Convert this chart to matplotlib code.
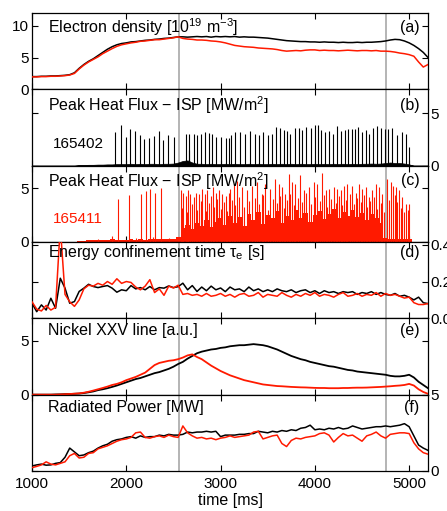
import numpy as np
import matplotlib
matplotlib.use('Agg')
import matplotlib.pyplot as plt

plt.rcParams['font.family'] = ['Liberation Sans', 'DejaVu Sans']
plt.rcParams['mathtext.fontset'] = 'custom'
plt.rcParams['mathtext.rm'] = 'Liberation Sans'
plt.rcParams['mathtext.it'] = 'Liberation Sans:italic'
plt.rcParams['mathtext.default'] = 'regular'

RED = '#ff1a00'
GREY = '#a8a8a8'

# sample grid of the slow signals, 50 ms
time_ms = list(range(1000, 5201, 50))

# vertical markers
t_marks = [2560, 4752]

# (a) electron density [1e19 m^-3]
ne_402 = [2.0, 2.0, 2.05, 2.05, 2.1, 2.1, 2.15, 2.2, 2.3, 2.6,
          3.3, 3.9, 4.4, 4.8, 5.3, 5.8, 6.3, 6.7, 7.0, 7.2,
          7.3, 7.45, 7.5, 7.6, 7.7, 7.75, 7.85, 7.9, 8.0, 8.05,
          8.15, 8.25, 8.25, 8.2, 8.25, 8.3, 8.25, 8.3, 8.2, 8.3,
          8.25, 8.3, 8.25, 8.3, 8.2, 8.25, 8.2, 8.2, 8.15, 8.1,
          8.05, 7.95, 7.85, 7.75, 7.65, 7.6, 7.55, 7.5, 7.5, 7.45,
          7.45, 7.4, 7.45, 7.4, 7.4, 7.35, 7.4, 7.35, 7.35, 7.4,
          7.35, 7.4, 7.4, 7.45, 7.5, 7.6, 7.75, 7.85, 7.8, 7.6,
          7.3, 6.9, 6.4, 5.8, 5.0]
ne_411 = [1.95, 1.95, 2.0, 2.0, 2.05, 2.05, 2.1, 2.15, 2.25, 2.5,
          3.2, 3.8, 4.3, 4.7, 5.1, 5.6, 6.0, 6.4, 6.75, 7.0,
          7.15, 7.3, 7.4, 7.55, 7.6, 7.7, 7.8, 7.8, 7.9, 8.0,
          8.1, 8.25, 8.0, 7.9, 7.85, 7.75, 7.75, 7.7, 7.6, 7.55,
          7.45, 7.3, 7.1, 6.9, 6.8, 6.7, 6.65, 6.6, 6.5, 6.45,
          6.4, 6.35, 6.25, 6.1, 6.0, 6.05, 6.1, 6.05, 6.15, 6.2,
          6.2, 6.1, 6.15, 6.1, 6.1, 6.05, 6.1, 6.15, 6.1, 6.05,
          6.1, 6.1, 6.05, 6.1, 6.0, 6.0, 5.95, 5.85, 5.7, 5.6,
          5.45, 5.2, 4.3, 3.5, 3.9]

# (b) peak heat flux, shot 165402: ELM times [ms] and peaks [MW/m2]
elm_t_402 = [1883, 1943, 2000, 2043, 2096, 2142, 2191, 2238, 2291, 2344,
             2390, 2440, 2511, 2635, 2670, 2716, 2752, 2794, 2830, 2876,
             2911, 2954, 3000, 3053, 3089, 3113, 3156, 3209, 3262, 3308,
             3362, 3404, 3447, 3500, 3546, 3592, 3628, 3670, 3706, 3741,
             3787, 3830, 3865, 3901, 3954, 4000, 4028, 4064, 4103, 4149,
             4195, 4237, 4273, 4316, 4351, 4390, 4425, 4461, 4496, 4539,
             4574, 4617, 4663, 4699, 4745, 4780, 4823, 4876, 4929, 4965,
             5000, 2660]
elm_q_402 = [3.2, 3.85, 2.75, 3.45, 3.3, 2.9, 2.5, 2.6, 2.8, 3.3,
             2.4, 2.9, 2.7, 3.0, 3.0, 3.0, 2.9, 3.05, 3.2, 3.15,
             3.0, 2.75, 2.75, 2.65, 2.6, 2.9, 3.2, 3.2, 3.05, 3.3,
             3.05, 2.95, 3.2, 2.9, 3.05, 3.7, 3.55, 3.4, 3.3, 3.05,
             3.55, 3.6, 3.4, 3.7, 3.55, 3.9, 3.85, 3.4, 3.2, 3.3,
             3.05, 3.8, 3.3, 3.4, 3.45, 3.5, 3.45, 3.7, 3.2, 3.4,
             3.05, 3.6, 3.8, 3.55, 3.5, 3.5, 3.55, 2.95, 3.2, 3.05,
             1.8, 1.5]
floor_402 = [0, 0, 0, 0, 0, 0, 0, 0, 0, 0,
             0.06, 0.06, 0.08, 0.08, 0.1, 0.1, 0.12, 0.12, 0.15, 0.15,
             0.15, 0.18, 0.15, 0.18, 0.15, 0.18, 0.18, 0.15, 0.18, 0.18,
             0.2, 0.3, 0.45, 0.5, 0.3, 0.18, 0.18, 0.15, 0.18, 0.15,
             0.15, 0.18, 0.15, 0.18, 0.15, 0.15, 0.18, 0.15, 0.18, 0.15,
             0.15, 0.18, 0.15, 0.18, 0.15, 0.18, 0.15, 0.18, 0.15, 0.15,
             0.18, 0.15, 0.18, 0.15, 0.18, 0.15, 0.18, 0.15, 0.18, 0.15,
             0.18, 0.18, 0.2, 0.18, 0.2, 0.25, 0.3, 0.25, 0.25, 0.2,
             0.12, 0, 0, 0, 0]

# (c) peak heat flux, shot 165411
elm_t_411 = [1910, 2030, 2160, 2210, 2250, 2300, 2365,
             2575, 2603, 2628, 2653, 2681, 2717, 2741, 2770, 2805, 2830,
             2858, 2894, 2922, 2947, 2983, 3018, 3053, 3089,
             3103, 3138, 3174, 3227, 3280, 3333, 3386, 3440, 3475, 3528,
             3581, 3617, 3652, 3688, 3723, 3759, 3794, 3847, 3883, 3936,
             3989, 4025, 4078, 4113, 4149, 4202, 4237, 4273, 4308, 4344,
             4397, 4432, 4468, 4503, 4539, 4574, 4610, 4645, 4681, 4716,
             4769, 4805, 4830, 4858, 4893, 4929, 4964, 5000]
elm_q_411 = [4.0, 4.4, 4.5, 4.7, 4.9, 4.6, 5.0,
             4.8, 4.6, 4.3, 4.8, 4.5, 4.2, 4.6, 4.5, 4.9, 4.5,
             4.8, 4.3, 5.1, 4.6, 4.8, 4.5, 4.3, 4.6,
             4.9, 5.4, 5.7, 5.1, 4.8, 5.2, 5.6, 4.5, 5.4, 4.9,
             5.9, 5.4, 5.1, 4.5, 6.3, 5.6, 5.4, 6.2, 4.8, 5.1,
             5.6, 5.4, 6.4, 4.8, 4.9, 5.1, 4.9, 4.8, 5.2, 5.4,
             5.2, 4.6, 5.4, 4.9, 5.1, 4.2, 4.8, 5.4, 5.1, 4.5,
             5.9, 5.6, 5.2, 5.1, 4.8, 4.2, 3.5, 3.5]
mid_t_411 = [1700, 1850, 2100, 2280, 2450,
             2590, 2640, 2695, 2755, 2790, 2845, 2875, 2935, 2965, 3000,
             3035, 3070, 3120, 3155, 3200, 3250, 3305, 3360, 3410, 3455,
             3500, 3555, 3600, 3635, 3670, 3705, 3740, 3775, 3820, 3865,
             3910, 3960, 4005, 4050, 4095, 4130, 4175, 4220, 4255, 4290,
             4325, 4370, 4415, 4450, 4485, 4520, 4555, 4590, 4625, 4660,
             4700, 4735, 4785, 4845, 4875, 4910, 4945, 4985]
mid_q_411 = [0.3, 0.6, 0.4, 0.5, 0.4,
             3.2, 2.8, 3.5, 3.0, 3.8, 2.9, 3.6, 3.3, 4.0, 3.1,
             3.7, 2.9, 3.9, 3.4, 4.2, 3.3, 3.8, 4.1, 3.5, 4.4,
             3.0, 4.0, 3.6, 4.3, 3.2, 3.9, 4.5, 3.4, 4.1, 3.7,
             4.6, 3.5, 4.2, 3.8, 4.4, 3.3, 4.0, 3.6, 4.3, 3.4,
             3.9, 4.5, 3.5, 4.1, 3.7, 4.4, 3.3, 3.8, 4.2, 3.1,
             3.6, 2.8, 3.9, 4.4, 3.7, 3.2, 2.8, 3.0]
floor_411 = [0, 0, 0, 0, 0, 0, 0, 0, 0, 0,
             0.1, 0.12, 0.15, 0.15, 0.2, 0.2, 0.2, 0.25, 0.2, 0.2,
             0.2, 0.25, 0.2, 0.25, 0.2, 0.25, 0.25, 0.3, 0.25, 0.3,
             0.3, 0.5, 1.3, 1.6, 1.2, 1.8, 1.5, 2.0, 1.4, 1.9,
             2.2, 1.6, 2.4, 1.8, 2.3, 1.5, 2.6, 2.0, 2.8, 1.7,
             2.5, 2.2, 2.9, 1.8, 2.4, 2.0, 3.0, 2.2, 2.7, 1.9,
             2.5, 2.9, 2.1, 2.6, 3.1, 2.2, 2.8, 2.4, 3.0, 2.3,
             2.7, 2.0, 2.6, 2.2, 1.8, 0.4, 0.3, 0.3, 0.3, 0.3,
             0.3, 0, 0, 0, 0]

# (d) energy confinement time [s]
tau_402 = [0.082, 0.036, 0.073, 0.045, 0.109, 0.055, 0.218, 0.164, 0.082, 0.091,
           0.146, 0.164, 0.185, 0.173, 0.167, 0.173, 0.178, 0.164, 0.142, 0.155,
           0.15, 0.178, 0.16, 0.167, 0.155, 0.173, 0.155, 0.167, 0.164, 0.176,
           0.167, 0.172, 0.191, 0.155, 0.178, 0.146, 0.17, 0.15, 0.175, 0.155,
           0.165, 0.145, 0.17, 0.155, 0.16, 0.145, 0.17, 0.15, 0.16, 0.145,
           0.155, 0.145, 0.16, 0.15, 0.145, 0.155, 0.14, 0.15, 0.155, 0.14,
           0.15, 0.135, 0.15, 0.14, 0.145, 0.135, 0.145, 0.14, 0.145, 0.13,
           0.14, 0.135, 0.145, 0.13, 0.14, 0.13, 0.125, 0.135, 0.12, 0.125,
           0.115, 0.1, 0.115, 0.085, 0.08]
tau_411 = [0.09, 0.05, 0.04, 0.07, 0.045, 0.06, 0.5, 0.13, 0.09, 0.065,
           0.1, 0.16, 0.18, 0.175, 0.19, 0.18, 0.2, 0.185, 0.215, 0.19,
           0.2, 0.195, 0.17, 0.155, 0.175, 0.21, 0.14, 0.16, 0.125, 0.175,
           0.165, 0.18, 0.13, 0.135, 0.125, 0.13, 0.12, 0.135, 0.12, 0.125,
           0.135, 0.12, 0.13, 0.115, 0.13, 0.135, 0.12, 0.125, 0.14, 0.115,
           0.13, 0.125, 0.12, 0.14, 0.125, 0.115, 0.13, 0.12, 0.135, 0.125,
           0.14, 0.12, 0.13, 0.125, 0.115, 0.13, 0.14, 0.12, 0.125, 0.135,
           0.12, 0.13, 0.125, 0.14, 0.12, 0.135, 0.125, 0.13, 0.12, 0.11,
           0.115, 0.085, 0.075, 0.075, 0.08]

# (e) nickel XXV line [a.u.]
ni_402 = [0, 0, 0, 0, 0, 0.02, 0.03, 0.05, 0.06, 0.08,
          0.1, 0.15, 0.22, 0.3, 0.42, 0.5, 0.6, 0.72, 0.85, 1.0,
          1.15, 1.3, 1.45, 1.55, 1.7, 1.85, 2.0, 2.1, 2.25, 2.4,
          2.6, 2.85, 3.05, 3.35, 3.6, 3.85, 4.0, 4.1, 4.2, 4.25,
          4.35, 4.4, 4.5, 4.55, 4.6, 4.6, 4.65, 4.7, 4.65, 4.6,
          4.5, 4.35, 4.2, 4.0, 3.8, 3.6, 3.45, 3.3, 3.2, 3.05,
          2.95, 2.85, 2.75, 2.65, 2.6, 2.5, 2.4, 2.3, 2.25, 2.15,
          2.1, 2.05, 2.0, 1.95, 1.9, 1.85, 1.75, 1.7, 1.7, 1.75,
          1.85, 1.6, 1.2, 0.9, 0.6]
ni_411 = [0, 0, 0, 0, 0, 0, 0.02, 0.04, 0.06, 0.09,
          0.12, 0.18, 0.27, 0.38, 0.5, 0.62, 0.75, 0.9, 1.0, 1.15,
          1.35, 1.5, 1.65, 1.85, 2.05, 2.4, 2.75, 2.95, 3.05, 3.15,
          3.2, 3.3, 3.45, 3.65, 3.75, 3.5, 3.3, 3.0, 2.7, 2.45,
          2.2, 2.0, 1.8, 1.65, 1.5, 1.35, 1.25, 1.15, 1.05, 0.95,
          0.9, 0.85, 0.8, 0.78, 0.75, 0.72, 0.7, 0.68, 0.67, 0.65,
          0.63, 0.62, 0.62, 0.6, 0.6, 0.6, 0.62, 0.62, 0.64, 0.65,
          0.65, 0.66, 0.68, 0.7, 0.72, 0.75, 0.78, 0.82, 0.85, 0.9,
          1.0, 0.85, 0.5, 0.25, 0.08]

# (f) radiated power [MW]
prad_402 = [0.33, 0.4, 0.45, 0.38, 0.4, 0.5, 0.55, 0.9, 1.5, 1.25,
            1.0, 1.05, 1.2, 1.3, 1.5, 1.65, 1.75, 1.95, 2.05, 2.1,
            2.2, 2.25, 2.15, 2.3, 2.2, 2.25, 2.25, 2.35, 2.3, 2.4,
            2.35, 2.35, 2.4, 2.55, 2.5, 2.55, 2.55, 2.6, 2.55, 2.6,
            2.25, 2.35, 2.35, 2.35, 2.4, 2.4, 2.45, 2.45, 2.6, 2.55,
            2.5, 2.6, 2.55, 2.65, 2.6, 2.7, 2.65, 2.8, 2.85, 3.0,
            2.7, 2.75, 2.7, 2.8, 2.75, 2.85, 2.75, 2.8, 2.95, 2.85,
            2.75, 2.8, 2.85, 2.9, 2.9, 2.95, 2.9, 2.95, 3.0, 3.1,
            2.9, 2.3, 1.7, 1.5, 1.35]
prad_411 = [0.22, 0.3, 0.4, 0.6, 0.45, 0.4, 0.5, 0.6, 1.0, 1.15,
            0.85, 0.9, 1.15, 1.2, 1.45, 1.55, 1.65, 1.8, 1.95, 2.05,
            2.1, 2.2, 2.5, 2.55, 2.2, 2.15, 2.25, 2.3, 2.2, 2.35,
            2.25, 2.2, 2.95, 2.5, 2.3, 2.15, 2.2, 2.1, 2.15, 2.05,
            2.15, 2.2, 2.3, 2.2, 2.25, 2.3, 2.35, 2.55, 2.6, 2.1,
            2.2, 2.3, 2.35, 1.8, 1.6, 2.0, 2.15, 2.1, 2.2, 2.25,
            2.3, 2.45, 2.5, 2.35, 1.9, 2.2, 2.45, 2.3, 2.35, 2.15,
            1.95, 2.3, 2.4, 2.55, 2.3, 2.15, 2.4, 2.45, 2.5, 2.5,
            2.45, 1.85, 1.45, 1.2, 1.1]

FS = 11.5      # panel titles
FS_TICK = 11


def style_axis(ax, yticks, ylim, side, title, tag, ty):
    ax.set_xlim(1000, 5200)
    ax.set_ylim(*ylim)
    ax.set_yticks(yticks)
    ax.set_xticks([1000, 2000, 3000, 4000, 5000])
    ax.tick_params(direction='in', length=4, width=0.8, top=True, bottom=True,
                   left=True, right=True, labelsize=FS_TICK, pad=2)
    if side == 'right':
        ax.tick_params(axis='y', labelleft=False, labelright=True)
    for s in ax.spines.values():
        s.set_linewidth(0.9)
    for t in t_marks:
        ax.axvline(t, color=GREY, lw=1.2, zorder=1)
    ax.text(0.04, ty, title, transform=ax.transAxes, fontsize=FS,
            va='center', ha='left', zorder=5)
    ax.text(0.978, ty, tag, transform=ax.transAxes, fontsize=FS,
            va='center', ha='right', zorder=5)


def main():
    fig, axes = plt.subplots(6, 1, sharex=True, figsize=(4.47, 5.11), dpi=100)
    fig.subplots_adjust(left=0.0716, right=0.9575, top=0.9746, bottom=0.0783,
                        hspace=0)
    ax_a, ax_b, ax_c, ax_d, ax_e, ax_f = axes

    ax_a.plot(time_ms, ne_402, color='k', lw=1.1, zorder=3)
    ax_a.plot(time_ms, ne_411, color=RED, lw=1.1, zorder=3)
    style_axis(ax_a, [0, 5, 10], (0, 12), 'left',
               r'Electron density [10$^{19}$ m$^{-3}$]', '(a)', 0.81)

    ax_b.fill_between(time_ms, 0, floor_402, color='k', lw=0.5, zorder=2)
    ax_b.vlines(elm_t_402, 0, elm_q_402, color='k', lw=0.8, zorder=3)
    style_axis(ax_b, [0, 5], (0, 7.27), 'right',
               r'Peak Heat Flux $-$ ISP [MW/m$^2$]', '(b)', 0.79)
    ax_b.text(0.053, 0.29, '165402', transform=ax_b.transAxes, fontsize=FS_TICK,
              va='center', ha='left')

    ax_c.fill_between(time_ms, 0, floor_411, step='mid', color=RED, lw=0,
                      zorder=2)
    ax_c.vlines(mid_t_411, 0, mid_q_411, color=RED, lw=0.8, zorder=3)
    ax_c.vlines(elm_t_411, 0, elm_q_411, color=RED, lw=0.8, zorder=3)
    style_axis(ax_c, [0, 5], (0, 7.1), 'left',
               r'Peak Heat Flux $-$ ISP [MW/m$^2$]', '(c)', 0.80)
    ax_c.text(0.053, 0.30, '165411', transform=ax_c.transAxes, fontsize=FS_TICK,
              va='center', ha='left', color=RED)

    ax_d.plot(time_ms, tau_402, color='k', lw=1.1, zorder=3)
    ax_d.plot(time_ms, tau_411, color=RED, lw=1.1, zorder=3)
    style_axis(ax_d, [0, 0.2, 0.4], (0, 0.415), 'right',
               r'Energy confinement time $\tau_\mathrm{e}$ [s]', '(d)', 0.86)

    ax_e.plot(time_ms, ni_402, color='k', lw=1.3, zorder=3)
    ax_e.plot(time_ms, ni_411, color=RED, lw=1.3, zorder=3)
    style_axis(ax_e, [0, 5], (0, 7.1), 'left',
               'Nickel XXV line [a.u.]', '(e)', 0.84)

    ax_f.plot(time_ms, prad_402, color='k', lw=1.1, zorder=3)
    ax_f.plot(time_ms, prad_411, color=RED, lw=1.1, zorder=3)
    style_axis(ax_f, [0, 5], (0, 5), 'right',
               'Radiated Power [MW]', '(f)', 0.83)
    ax_f.set_xlabel('time [ms]', fontsize=FS, labelpad=2)
    ax_f.tick_params(axis='x', pad=4)

    fig.savefig('out.png', dpi=100)


if __name__ == '__main__':
    main()
